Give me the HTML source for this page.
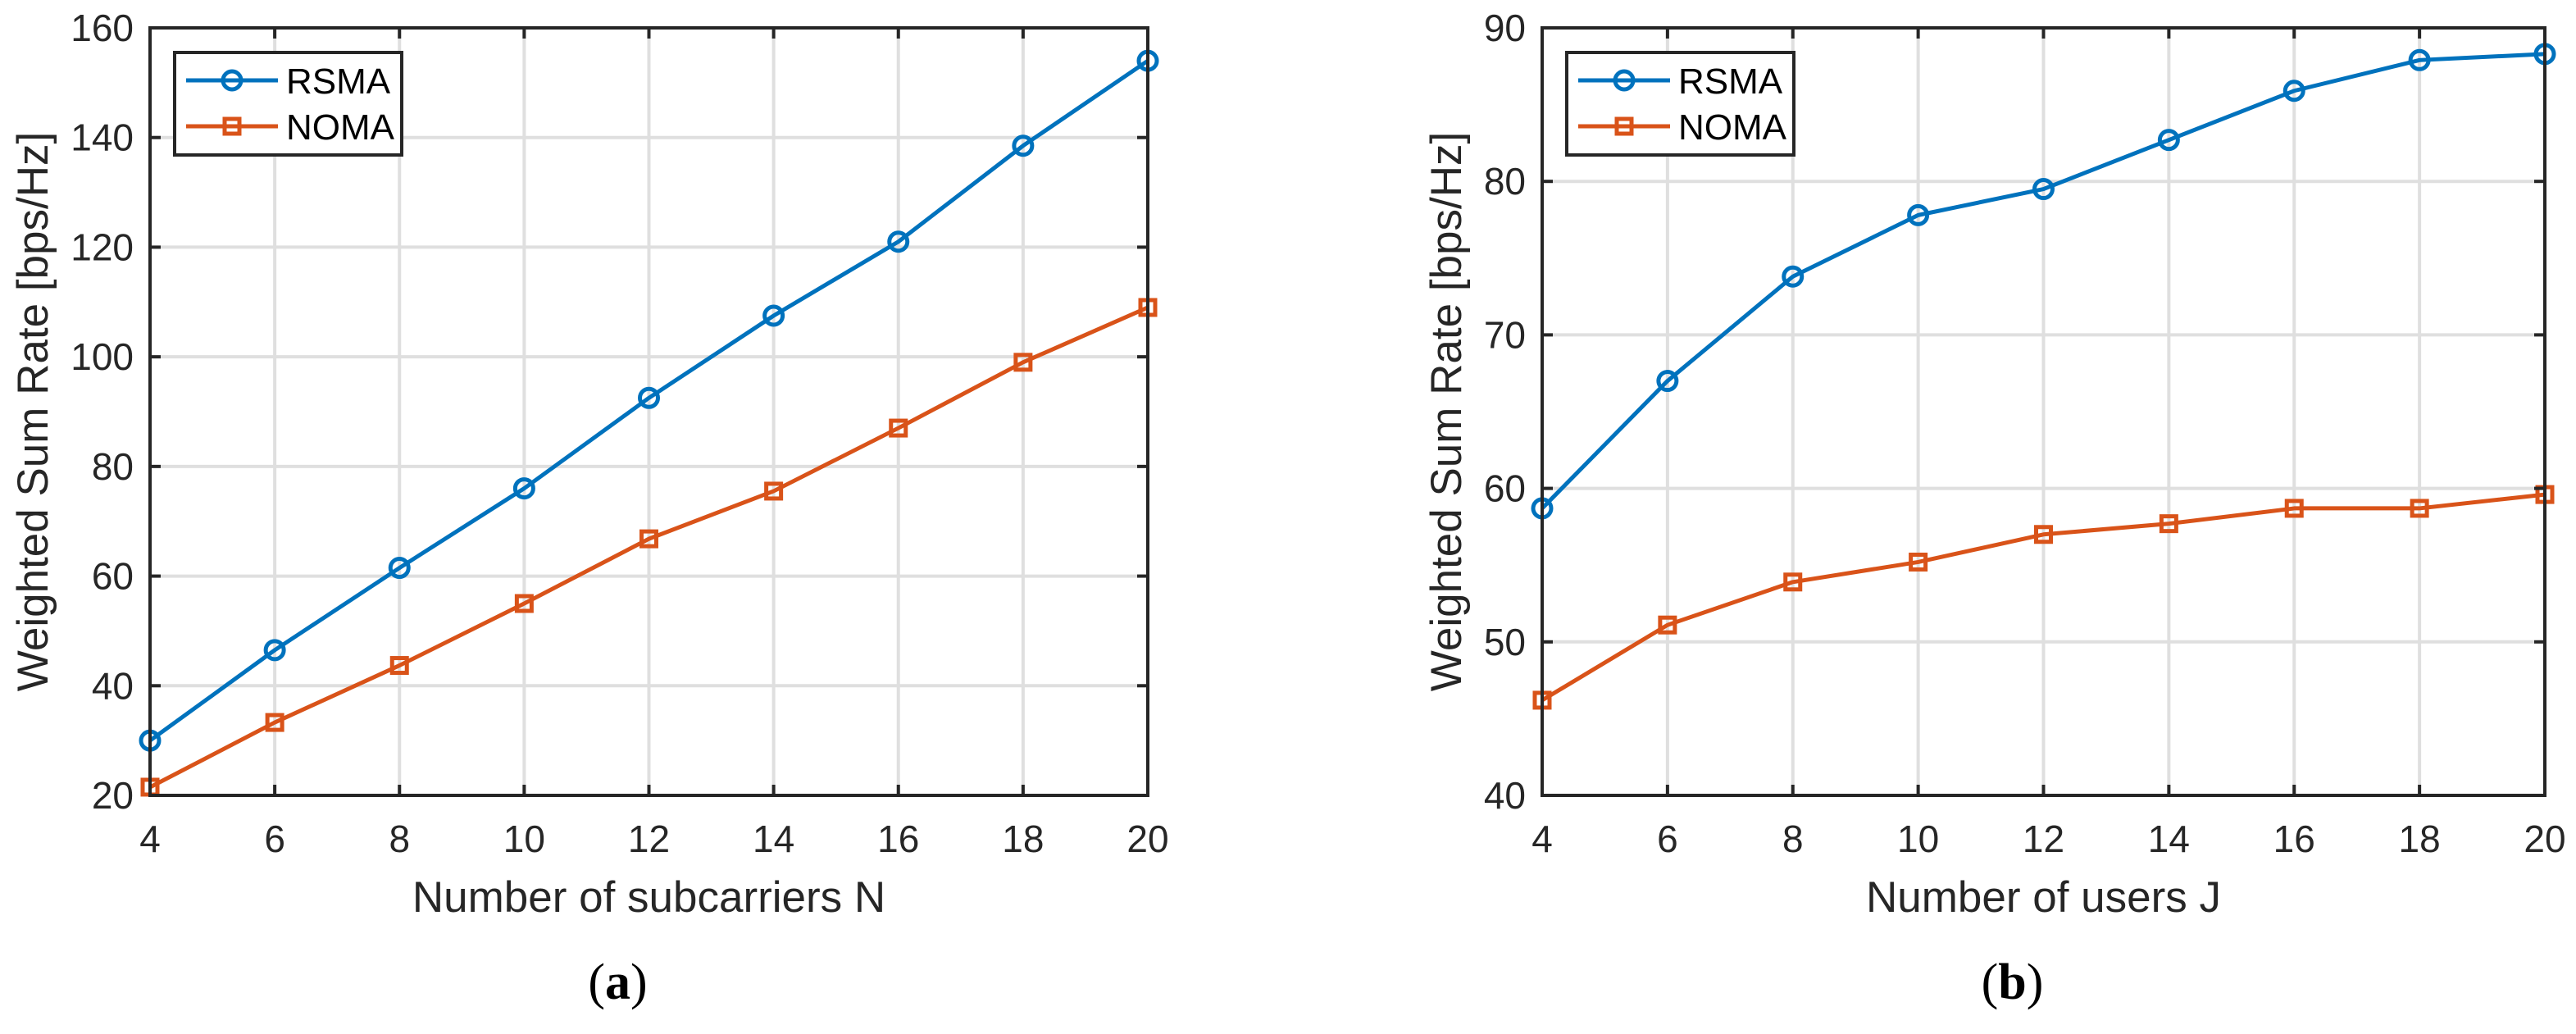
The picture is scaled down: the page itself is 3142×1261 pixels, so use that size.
<!DOCTYPE html>
<html><head><meta charset="utf-8"><style>
html,body{margin:0;padding:0;background:#fff;}
svg{display:block;font-family:"Liberation Sans",sans-serif;}
</style></head><body>
<svg id="chart" width="3142" height="1261" viewBox="0 0 3142 1261" xmlns="http://www.w3.org/2000/svg"></svg>
<script>
const xTicks = [4,6,8,10,12,14,16,18,20];
const xValues = [4,6,8,10,12,14,16,18,20];
const seriesNames = ["RSMA","NOMA"];
const rsmaA = [30,46.5,61.5,76,92.5,107.5,121,138.5,154];
const nomaA = [21.5,33.3,43.7,55,66.8,75.5,87,99,109];
const yTicksA = [20,40,60,80,100,120,140,160];
const rsmaB = [58.7,67,73.8,77.8,79.5,82.7,85.9,87.9,88.3];
const nomaB = [46.2,51.1,53.9,55.2,57,57.7,58.7,58.7,59.6];
const yTicksB = [40,50,60,70,80,90];

const NS="http://www.w3.org/2000/svg";
const svg=document.getElementById('chart');
function mk(tag,attrs,parent){const e=document.createElementNS(NS,tag);for(const k in attrs)e.setAttribute(k,attrs[k]);(parent||svg).appendChild(e);return e;}
const BLUE="#0072BD", RED="#D95319", AX="#262626";

function panel(cfg){
  const g=mk('g',{});
  
  
  const L=cfg.left,R=cfg.right,T=34,B=970;
  const xMin=xTicks[0],xMax=xTicks[xTicks.length-1];
  const yMin=cfg.yTicks[0],yMax=cfg.yTicks[cfg.yTicks.length-1];
  const sx=v=>L+(v-xMin)/(xMax-xMin)*(R-L);
  const sy=v=>B-(v-yMin)/(yMax-yMin)*(B-T);
  // grid
  xTicks.forEach(t=>{const l=mk('line',{x1:sx(t),x2:sx(t),y1:T,y2:B,stroke:'#dfdfdf','stroke-width':4},g);
    });
  cfg.yTicks.forEach(t=>{const l=mk('line',{x1:L,x2:R,y1:sy(t),y2:sy(t),stroke:'#dfdfdf','stroke-width':4},g);
    });
  // series
  const series=[{d:cfg.rsma,c:BLUE,m:'circle',n:'rsma'},{d:cfg.noma,c:RED,m:'square',n:'noma'}];
  series.forEach(s=>{
    const pts=xValues.map((x,i)=>sx(x)+','+sy(s.d[i])).join(' ');
    const pl=mk('polyline',{points:pts,fill:'none',stroke:s.c,'stroke-width':5,'stroke-linejoin':'round'},g);
    
    xValues.forEach((x,i)=>{
      let e;
      if(s.m==='circle') e=mk('circle',{cx:sx(x),cy:sy(s.d[i]),r:11,fill:'none',stroke:s.c,'stroke-width':5},g);
      else e=mk('rect',{x:sx(x)-9,y:sy(s.d[i])-9,width:18,height:18,fill:'none',stroke:s.c,'stroke-width':5},g);
      
    });
  });
  // axes box
  const box=mk('rect',{x:L,y:T,width:R-L,height:B-T,fill:'none',stroke:AX,'stroke-width':4},g);
  
  xTicks.forEach(t=>{
    mk('line',{x1:sx(t),x2:sx(t),y1:B,y2:B-13,stroke:AX,'stroke-width':4},g);
    mk('line',{x1:sx(t),x2:sx(t),y1:T,y2:T+13,stroke:AX,'stroke-width':4},g);
    const tx=mk('text',{x:sx(t),y:1039,'text-anchor':'middle','font-size':46,fill:AX},g);
    tx.textContent=t;
    
  });
  cfg.yTicks.forEach(t=>{
    mk('line',{x1:L,x2:L+13,y1:sy(t),y2:sy(t),stroke:AX,'stroke-width':4},g);
    mk('line',{x1:R,x2:R-13,y1:sy(t),y2:sy(t),stroke:AX,'stroke-width':4},g);
    const tx=mk('text',{x:L-20,y:sy(t)+16,'text-anchor':'end','font-size':46,fill:AX},g);
    tx.textContent=t;
    
  });
  const xl=mk('text',{x:(L+R)/2,y:1112,'text-anchor':'middle','font-size':53,fill:AX},g);
  xl.textContent=cfg.xlabel;
  
  const yl=mk('text',{x:0,y:0,'text-anchor':'middle','font-size':53,fill:AX,transform:`translate(${cfg.ylx},${(T+B)/2}) rotate(-90)`},g);
  yl.textContent='Weighted Sum Rate [bps/Hz]';
  
  // legend
  const lg=mk('g',{},g);
  
  const lx=L+30;
  mk('rect',{x:lx,y:64,width:277,height:125,fill:'#fff',stroke:AX,'stroke-width':4},lg);
  series.forEach((s,i)=>{
    const y=98+i*56;
    const le=mk('g',{},lg);
    
    mk('line',{x1:lx+14,x2:lx+126,y1:y,y2:y,stroke:s.c,'stroke-width':5},le);
    if(s.m==='circle') mk('circle',{cx:lx+70,cy:y,r:11,fill:'none',stroke:s.c,'stroke-width':5},le);
    else mk('rect',{x:lx+61,y:y-9,width:18,height:18,fill:'none',stroke:s.c,'stroke-width':5},le);
    const t=mk('text',{x:lx+136,y:y+16,'font-size':44,fill:'#000'},le);
    t.textContent=seriesNames[i];
  });
  const cap=mk('text',{x:(L+R)/2-38,y:1218,'text-anchor':'middle','font-size':62,fill:'#000','font-family':'"Liberation Serif",serif'},g);
  cap.innerHTML='(<tspan font-weight="bold">'+cfg.cap+'</tspan>)';
  
}
panel({name:'panel-a',left:183,right:1400,yTicks:yTicksA,rsma:rsmaA,noma:nomaA,xlabel:'Number of subcarriers N',ylx:58,cap:'a'});
panel({name:'panel-b',left:1881,right:3104,yTicks:yTicksB,rsma:rsmaB,noma:nomaB,xlabel:'Number of users J',ylx:1782,cap:'b'});
</script>
</body></html>
